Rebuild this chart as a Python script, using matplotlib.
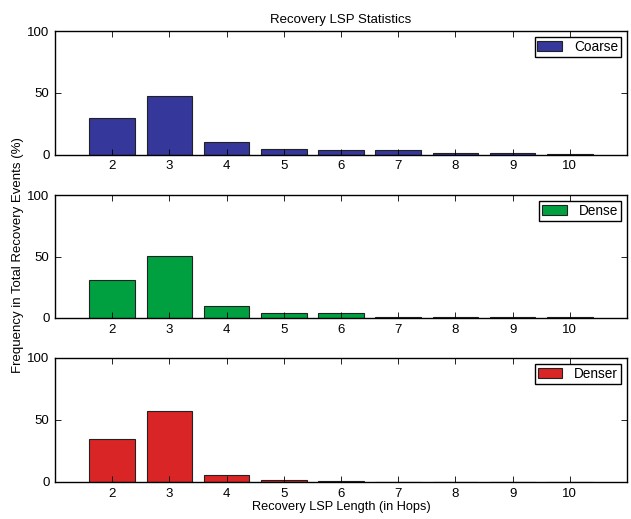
import matplotlib
matplotlib.use("Agg")
import matplotlib.pyplot as plt

plt.rcParams['font.family'] = ['Liberation Sans', 'DejaVu Sans']

hops = [2, 3, 4, 5, 6, 7, 8, 9, 10]
coarse = [30, 47.5, 10.5, 4.3, 3.8, 3.4, 1.2, 1.1, 0.5]
dense = [30.7, 50.2, 10, 4.4, 3.8, 0.9, 0.8, 0.7, 0.5]
denser = [34.3, 57, 5.5, 1.3, 0.8, 0.3, 0.3, 0.3, 0.2]
series = [("Coarse", coarse, "#35379a"),
          ("Dense", dense, "#00a041"),
          ("Denser", denser, "#d92525")]
yticks = [0, 50, 100]

fs = 9.5
fig = plt.figure(figsize=(6.31, 5.19), dpi=100)
W, H = 631, 519
boxes = [(31, 154.7), (195, 318), (358, 482)]
left, right = 55, 627
for (name, vals, color), (top, bot) in zip(series, boxes):
    ax = fig.add_axes([left / W, 1 - bot / H, (right - left) / W, (bot - top) / H])
    ax.bar(hops, vals, width=0.8, color=color, edgecolor="#222222", linewidth=0.8, label=name)
    ax.set_xlim(1, 11)
    ax.set_ylim(0, 100)
    ax.set_xticks(hops)
    ax.set_yticks(yticks)
    ax.tick_params(direction="in", top=True, right=True, length=4, width=0.6,
                   labelsize=fs, pad=4)
    for s in ax.spines.values():
        s.set_linewidth(1.0)
    leg = ax.legend(loc="upper right", fontsize=fs + 0.3, fancybox=False, framealpha=1,
                    edgecolor="black", borderpad=0.2, handlelength=1.8,
                    handleheight=0.7, borderaxespad=0.45, handletextpad=0.9)
    leg.get_frame().set_linewidth(1.0)
    if name == "Coarse":
        ax.set_title("Recovery LSP Statistics", fontsize=fs, pad=6)
    if name == "Denser":
        ax.set_xlabel("Recovery LSP Length (in Hops)", fontsize=9.2, labelpad=1)

fig.text(18 / W, 1 - 255 / H, "Frequency in Total Recovery Events (%)", rotation=90,
         ha="center", va="center", fontsize=fs)

fig.savefig("out.png", dpi=100)
